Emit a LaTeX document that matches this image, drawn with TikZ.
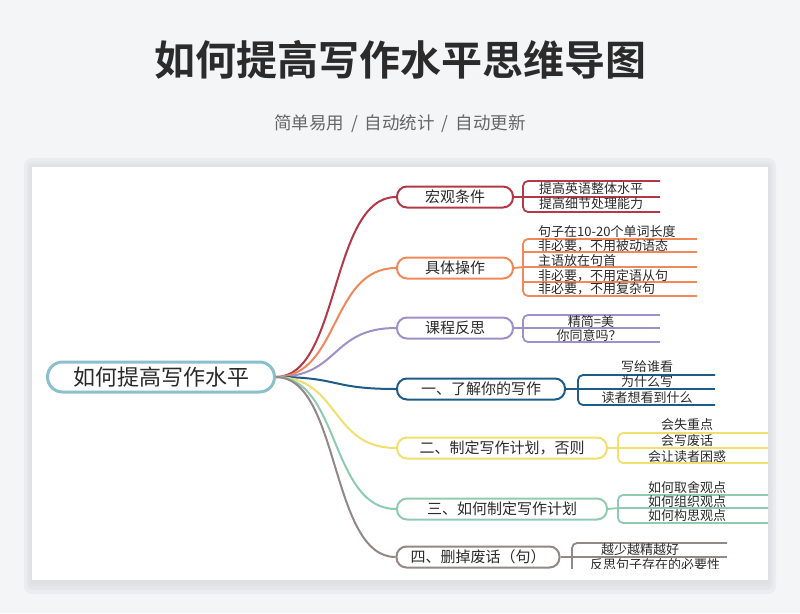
\documentclass[tikz,border=0pt]{standalone}
\usepackage{fontspec}
\setmainfont{Noto Sans CJK SC}[BoldFont={Noto Sans CJK SC Bold}]
\definecolor{bgc}{HTML}{F4F5F7}
\definecolor{shc}{HTML}{DCDDE0}
\definecolor{txc}{HTML}{2B2B2B}
\definecolor{subc}{HTML}{666666}
\definecolor{rootc}{HTML}{8CBFCC}
\definecolor{cA}{HTML}{B23A48}
\definecolor{cB}{HTML}{F0885A}
\definecolor{cC}{HTML}{9E90C8}
\definecolor{cD}{HTML}{1E5C88}
\definecolor{cE}{HTML}{F2E06E}
\definecolor{cF}{HTML}{8FCBB3}
\definecolor{cG}{HTML}{938787}
\tikzset{
  branchbox/.style={draw, line width=2pt, rounded corners=10pt, minimum height=21pt, inner sep=0pt, font=\fontsize{15}{15}\selectfont, text=txc},
  leaftext/.style={inner sep=0pt, font=\fontsize{13}{13}\selectfont, text=txc},
  conn/.style={line width=2pt},
  leafline/.style={line width=1.8pt, rounded corners=5pt},
  shadowlayer/.style={fill=shc, opacity=0.35},
}
\begin{document}
\begin{tikzpicture}[x=1pt,y=-1pt]
\useasboundingbox (0,0) rectangle (800,613);
\fill[bgc] (0,0) rectangle (800,613);
% card shadow (soft)
\fill[shadowlayer, rounded corners=8pt] (24,158) rectangle (776,594);
\fill[shadowlayer, rounded corners=6pt] (27,161) rectangle (773,590);
\fill[shadowlayer, rounded corners=4pt] (29,164) rectangle (771,586);
\fill[shadowlayer, rounded corners=2pt] (31,166) rectangle (769,583);
\fill[white] (32,167) rectangle (768,580);
% title
\node[font=\fontsize{41}{41}\selectfont\bfseries, text=txc] (title) at (400,60) {如何提高写作水平思维导图};
\node[font=\fontsize{17.5}{17.5}\selectfont, text=subc] (sub) at (400,124) {简单易用 \,/\, 自动统计 \,/\, 自动更新};

\begin{scope}
\clip (32,167) rectangle (768,568);
% root
\node[draw=rootc, line width=3pt, rounded corners=15pt, minimum width=227pt, minimum height=30pt, inner sep=0pt, font=\fontsize{22}{22}\selectfont, text=txc] (root) at (161,377) {如何提高写作水平};
% branches
\node[branchbox, draw=cA, minimum width=116pt] (b1) at (455,197) {宏观条件};
\node[branchbox, draw=cB, minimum width=116pt] (b2) at (455,268) {具体操作};
\node[branchbox, draw=cC, minimum width=116pt] (b3) at (455,328) {课程反思};
\node[branchbox, draw=cD, minimum width=168pt] (b4) at (481,389) {一、了解你的写作};
\node[branchbox, draw=cE, minimum width=210pt] (b5) at (502,448) {二、制定写作计划，否则};
\node[branchbox, draw=cF, minimum width=210pt] (b6) at (502,509) {三、如何制定写作计划};
\node[branchbox, draw=cG, minimum width=163pt] (b7) at (478,557) {四、删掉废话（句）};
% connectors
\draw[conn, cA] (root.east) .. controls (340,377) and (330,197) .. (b1.west);
\draw[conn, cB] (root.east) .. controls (340,377) and (330,268) .. (b2.west);
\draw[conn, cC] (root.east) .. controls (340,377) and (330,328) .. (b3.west);
\draw[conn, cD] (root.east) .. controls (340,377) and (330,389) .. (b4.west);
\draw[conn, cE] (root.east) .. controls (340,377) and (330,448) .. (b5.west);
\draw[conn, cF] (root.east) .. controls (340,377) and (330,509) .. (b6.west);
\draw[conn, cG] (root.east) .. controls (340,377) and (330,557) .. (b7.west);

% branch 1
\coordinate (k1) at (523,197);
\draw[leafline, cA] (660,181) -- (523,181) -- (523,212) -- (660,212);
\draw[leafline, cA] (b1.east) -- (k1) -- (660,197);
\node[leaftext, anchor=west] (l11) at (539,189) {提高英语整体水平};
\node[leaftext, anchor=west] (l12) at (539,204) {提高细节处理能力};
% branch 2
\coordinate (k2) at (523,267);
\draw[leafline, cB] (697,239) -- (523,239) -- (523,296) -- (697,296);
\draw[leafline, cB] (523,252) -- (697,252);
\draw[leafline, cB] (523,282) -- (697,282);
\draw[leafline, cB] (b2.east) -- (k2) -- (697,267);
\node[leaftext, anchor=west] (l21) at (538,232) {句子在10-20个单词长度};
\node[leaftext, anchor=west] (l22) at (538,246) {非必要，不用被动语态};
\node[leaftext, anchor=west] (l23) at (538,261) {主语放在句首};
\node[leaftext, anchor=west] (l24) at (538,276) {非必要，不用定语从句};
\node[leaftext, anchor=west] (l25) at (538,289) {非必要，不用复杂句};
% branch 3
\coordinate (k3) at (523,328);
\draw[leafline, cC] (660,315) -- (523,315) -- (523,342) -- (660,342);
\draw[leafline, cC] (b3.east) -- (k3) -- (660,328);
\node[leaftext] (l31) at (591,322) {精简=美};
\node[leaftext] (l32) at (589,336) {你同意吗？};
% branch 4
\coordinate (k4) at (578,389);
\draw[leafline, cD] (715,375) -- (578,375) -- (578,405) -- (715,405);
\draw[leafline, cD] (b4.east) -- (k4) -- (715,389);
\node[leaftext] (l41) at (647,367) {写给谁看};
\node[leaftext] (l42) at (647,382) {为什么写};
\node[leaftext] (l43) at (647,398) {读者想看到什么};
% branch 5
\coordinate (k5) at (618,448);
\draw[leafline, cE] (768,433) -- (618,433) -- (618,463) -- (768,463);
\draw[leafline, cE] (b5.east) -- (k5) -- (768,448);
\node[leaftext] (l51) at (687,425) {会失重点};
\node[leaftext] (l52) at (687,441) {会写废话};
\node[leaftext] (l53) at (687,457) {会让读者困惑};
% branch 6
\coordinate (k6) at (618,508);
\draw[leafline, cF] (768,495) -- (618,495) -- (618,523) -- (768,523);
\draw[leafline, cF] (b6.east) -- (k6) -- (768,508);
\node[leaftext] (l61) at (687,488) {如何取舍观点};
\node[leaftext] (l62) at (687,502) {如何组织观点};
\node[leaftext] (l63) at (687,516) {如何构思观点};
% branch 7
\coordinate (k7) at (572,557);
\draw[leafline, cG] (727,543) -- (572,543) -- (572,575) -- (727,575);
\draw[leafline, cG] (b7.east) -- (k7) -- (727,557);
\node[leaftext] (l71) at (640,550) {越少越精越好};
\node[leaftext] (l72) at (655,565) {反思句子存在的必要性};
\end{scope}
\end{tikzpicture}
\end{document}
